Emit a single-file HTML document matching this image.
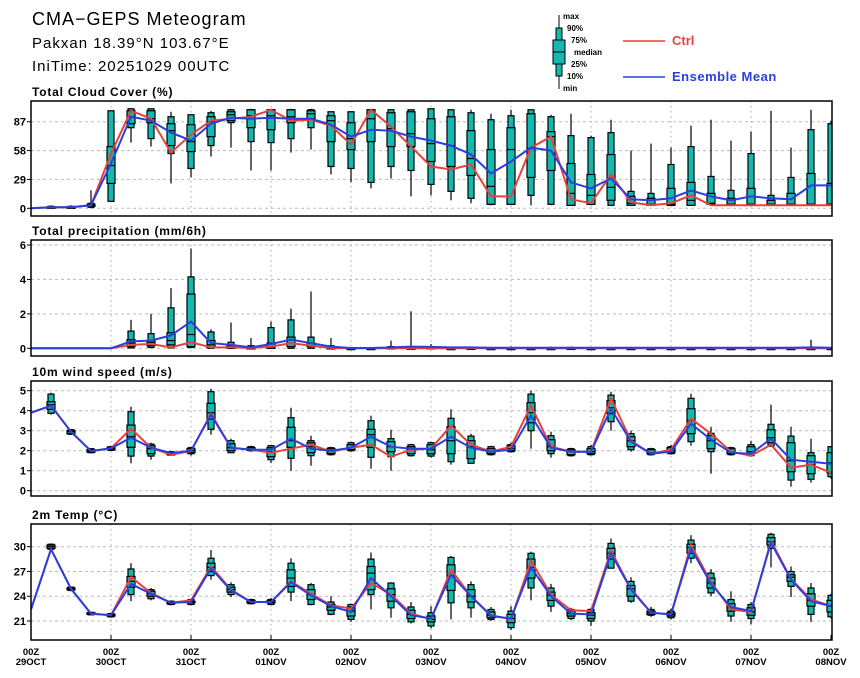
<!DOCTYPE html>
<html><head><meta charset="utf-8"><style>
body{margin:0;background:#fff;}
svg{display:block;font-family:"Liberation Sans",sans-serif;}
</style></head><body>
<svg id="chart" width="860" height="678" viewBox="0 0 860 678">
<rect x="0" y="0" width="860" height="678" fill="#fff"/>
<text x="32" y="25" font-size="18" letter-spacing="1" fill="#000">CMA−GEPS Meteogram</text>
<text x="32" y="48" font-size="15" letter-spacing="1" fill="#000">Pakxan 18.39°N 103.67°E</text>
<text x="32" y="71" font-size="15" letter-spacing="1" fill="#000">IniTime: 20251029 00UTC</text>
<g>
  <line x1="559" y1="15" x2="559" y2="89" stroke="#000"/>
  <rect x="556" y="28" width="6" height="48" fill="#13b8b0" stroke="#000"/>
  <rect x="553" y="40" width="12" height="24" fill="#13b8b0" stroke="#000"/>
  <line x1="553" y1="52" x2="565" y2="52" stroke="#000"/>
  <g font-size="8" font-weight="bold">
  <text x="563" y="19">max</text><text x="567" y="31">90%</text><text x="571" y="43">75%</text>
  <text x="574" y="55">median</text><text x="571" y="67">25%</text><text x="567" y="79">10%</text><text x="563" y="91">min</text>
  </g>
  <line x1="623" y1="41" x2="665" y2="41" stroke="#e8413c" stroke-width="1.5"/>
  <text x="672" y="45" font-size="13" font-weight="bold" fill="#e8413c">Ctrl</text>
  <line x1="623" y1="77" x2="665" y2="77" stroke="#2b3fe0" stroke-width="1.5"/>
  <text x="672" y="81" font-size="13" font-weight="bold" letter-spacing="0.5" fill="#2b3fe0">Ensemble Mean</text>
</g>
</svg>
<script>
// ---- shared
const days = ["29OCT","30OCT","31OCT","01NOV","02NOV","03NOV","04NOV","05NOV","06NOV","07NOV","08NOV"];
const n = null;
// ---- cloud cover
const cloudMin = [n,0,0,0,7,66,62,25,31,52,61,38,38,56,59,34,26,20,30,12,13,8,5,3,3,3,3,3,3,3,3,3,3,3,3,3,3,3,3,3,3];
const cloudP10 = [n,0,0,1,7,81,70,55,40,63,86,67,66,70,81,42,40,26,42,38,24,17,10,4,4,13,4,3,4,3,3,3,3,3,4,4,4,4,4,4,4];
const cloudP25 = [n,0.5,0.5,2,25,85,86,63,57,72,88,81,79,86,90,67,59,67,62,62,47,42,33,4,4,31,38,3,4,8,3,3,3,3,4,4,4,4,4,4,4];
const cloudMed = [n,1,1,3,43,92,90,78,67,87,94,93,93,92,95,88,70,90,80,75,65,63,50,22,59,60,72,15,13,21,5,4,4,8,5,4,4,4,4,4,4];
const cloudP75 = [n,1.5,1.5,4,62,98,98,85,84,92,97,99,99,99,98,93,86,99,96,97,90,92,78,59,81,95,77,45,34,54,12,10,20,26,15,10,20,8,15,35,25];
const cloudP90 = [n,2,2,5,98,100,100,92,94,96,99,99,99,99,99,97,97,99,99,99,100,99,96,89,93,99,92,73,71,76,17,15,44,62,32,18,55,13,31,79,85];
const cloudMax = [n,3,3,18,98,100,100,97,92,98,100,100,100,100,100,97,97,100,99,99,100,99,99,95,99,99,94,95,73,89,58,65,61,83,89,68,77,98,61,99,88];
const cloudCtrl = [0,1,1,3,55,98,90,56,74,88,90,92,99,88,89,83,64,99,82,62,42,39,44,12,12,61,72,9,5,34,6,3,5,13,3,3,3,3,3,3,3];
const cloudMean = [0,1,1,3,45,92,88,76,68,85,91,90,91,90,90,84,72,79,78,72,68,63,54,35,47,61,58,26,20,30,9,8,10,18,12,8,12,10,9,23,23];
const cloudTicks = [0,29,58,87];
// ---- precipitation
const prMin = [n,n,n,n,n,0,0,0,0,0,0,0,0,0,0,0,0,0,0,0,0,0,0,0,0,0,0,0,0,0,0,0,0,0,0,0,0,0,0,0,0];
const prP10 = [n,n,n,n,n,0.02,0.05,0.02,0.05,0,0,0,0,0,0,0,0,0,0,0,0,0,0,0,0,0,0,0,0,0,0,0,0,0,0,0,0,0,0,0,0];
const prP25 = [n,n,n,n,n,0.1,0.15,0.2,0.1,0.05,0,0,0,0.1,0.1,0,0,0,0,0,0,0,0,0,0,0,0,0,0,0,0,0,0,0,0,0,0,0,0,0,0];
const prMed = [n,n,n,n,n,0.3,0.35,0.45,0.8,0.2,0.05,0.02,0.1,0.3,0.15,0.02,0,0,0,0,0,0,0,0,0,0,0,0,0,0,0,0,0,0,0,0,0,0,0,0,0];
const prP75 = [n,n,n,n,n,0.5,0.45,0.9,3.15,0.45,0.15,0.05,0.3,0.65,0.3,0.05,0.01,0.01,0.05,0.03,0.05,0.01,0.02,0.01,0.01,0.01,0.01,0.02,0.01,0.01,0.01,0.01,0.01,0.01,0.01,0.01,0.01,0.01,0.01,0.01,0.01];
const prP90 = [n,n,n,n,n,1.0,0.85,2.35,4.15,0.95,0.35,0.15,1.2,1.65,0.65,0.15,0.02,0.02,0.1,0.05,0.1,0.02,0.05,0.02,0.02,0.02,0.02,0.05,0.02,0.02,0.02,0.02,0.02,0.02,0.02,0.02,0.02,0.02,0.02,0.02,0.02];
const prMax = [n,n,n,n,n,1.65,2.0,3.5,5.8,1.1,1.5,0.6,1.55,2.3,3.3,0.6,0.05,0.05,0.45,2.15,0.25,0.1,0.1,0.05,0.1,0.05,0.1,0.05,0.05,0.05,0.05,0.05,0.05,0.05,0.05,0.05,0.05,0.05,0.05,0.5,0.05];
const prCtrl = [0,0,0,0,0,0.2,0.25,0.05,0.35,0.05,0.05,0.02,0.1,0.3,0.15,0.02,0,0,0,0,0,0,0,0,0,0,0,0,0,0,0,0,0,0,0,0,0,0,0,0,0];
const prMean = [0,0,0,0,0,0.4,0.45,0.75,1.55,0.3,0.2,0.05,0.25,0.5,0.3,0.1,0.02,0.02,0.05,0.1,0.08,0.05,0.05,0.03,0.03,0.03,0.03,0.03,0.03,0.03,0.03,0.03,0.03,0.03,0.03,0.03,0.03,0.03,0.03,0.05,0.03];
const prTicks = [0,2,4,6];
// ---- wind
const wMin = [n,3.8,2.8,1.88,2.0,1.37,1.55,1.75,1.75,2.8,1.9,1.95,1.38,1.0,1.25,1.75,1.95,1.1,1.0,1.7,1.65,1.3,1.37,1.75,1.9,2.1,1.65,1.7,1.75,3.0,1.95,1.75,1.8,2.25,0.85,1.75,1.7,2.2,0.2,0.4,0.6];
const wP10 = [n,3.87,2.82,1.9,2.02,1.73,1.73,1.78,1.85,3.07,1.9,2.0,1.55,1.62,1.75,1.8,2.0,1.67,1.7,1.75,1.73,1.45,1.37,1.8,1.95,3.0,1.85,1.75,1.8,3.45,2.05,1.8,1.85,2.45,1.95,1.8,1.75,2.22,0.53,0.57,0.7];
const wP25 = [n,4.07,2.85,1.93,2.05,2.17,1.85,1.8,1.9,3.57,2.0,2.02,1.7,2.17,1.9,1.85,2.05,2.17,1.95,1.85,1.85,1.85,1.6,1.85,2.0,3.4,2.0,1.8,1.85,3.85,2.2,1.85,1.9,2.85,2.1,1.85,1.85,2.4,0.95,0.85,0.9];
const wMed = [n,4.3,2.95,2.0,2.12,2.7,2.1,1.85,2.0,3.9,2.15,2.05,1.95,2.5,2.2,1.95,2.15,2.8,2.2,2.05,2.05,2.5,2.2,1.95,2.1,3.9,2.2,1.95,1.95,4.15,2.5,1.9,2.0,3.5,2.5,1.95,1.95,2.65,1.5,1.3,1.4];
const wP75 = [n,4.45,3.0,2.05,2.17,3.28,2.25,1.9,2.1,4.37,2.35,2.15,2.15,3.17,2.4,2.1,2.3,3.07,2.45,2.2,2.3,3.2,2.5,2.1,2.25,4.4,2.55,2.05,2.1,4.5,2.7,2.05,2.15,4.1,2.75,2.1,2.2,3.05,2.4,1.75,1.9];
const wP90 = [n,4.83,3.05,2.1,2.2,3.95,2.33,1.95,2.15,4.95,2.5,2.2,2.25,3.65,2.5,2.15,2.4,3.5,2.6,2.3,2.4,3.62,2.73,2.2,2.3,4.83,2.75,2.1,2.2,4.78,2.85,2.1,2.2,4.62,2.87,2.15,2.3,3.32,2.73,1.9,2.2];
const wMax = [n,4.9,3.08,2.12,2.25,4.2,2.4,1.97,2.2,5.1,2.6,2.25,2.3,4.15,2.75,2.2,2.45,3.75,3.05,2.35,2.45,4.07,2.85,2.25,2.4,5.0,2.95,2.15,2.3,4.95,3.0,2.15,2.3,4.85,3.2,2.2,2.5,4.3,3.2,2.6,2.2];
const wCtrl = [3.9,4.25,2.95,1.98,2.12,3.1,2.15,1.8,1.98,3.85,2.15,2.05,1.9,2.1,2.3,1.95,2.15,2.3,1.7,2.05,2.1,3.25,2.3,1.95,2.2,4.25,2.2,1.95,1.95,4.6,2.5,1.85,2.05,3.6,2.85,1.95,1.75,2.3,1.15,1.3,0.9];
const wMean = [3.9,4.25,2.95,1.98,2.12,2.65,2.15,1.88,2.0,3.8,2.15,2.05,2.05,2.6,2.1,2.0,2.15,2.7,2.2,2.1,2.1,2.7,2.15,1.95,2.05,3.75,2.15,1.95,1.95,4.1,2.45,1.85,1.95,3.35,2.55,1.9,1.85,2.6,1.55,1.45,1.35];
const wTicks = [0,1,2,3,4,5];
// ---- temperature
const tMin = [n,29.6,24.6,21.7,21.4,23.4,23.5,22.9,22.9,26.0,23.9,23.0,22.9,23.4,22.9,21.7,20.9,22.4,21.4,20.7,20.1,21.2,21.4,21.0,19.9,23.5,22.1,21.1,20.4,27.4,23.2,21.5,21.2,28.0,24.0,20.9,20.6,27.5,23.9,20.9,21.3];
const tP10 = [n,29.7,24.7,21.75,21.5,24.2,23.7,23.0,23.0,26.5,24.2,23.1,23.0,24.5,23.0,21.8,21.2,24.2,22.6,20.9,20.4,23.2,22.6,21.2,20.2,25.0,22.8,21.3,21.0,27.4,23.4,21.7,21.4,28.6,24.4,21.6,21.3,29.8,25.2,21.8,21.5];
const tP25 = [n,29.8,24.8,21.8,21.6,25.1,24.0,23.1,23.2,27.0,24.5,23.2,23.2,25.2,23.6,22.3,21.6,24.8,23.4,21.3,20.9,24.7,23.3,21.4,20.8,26.2,23.5,21.6,21.3,28.5,24.0,21.8,21.6,29.2,25.0,22.2,21.7,30.2,25.8,22.8,22.1];
const tMed = [n,30.0,24.9,21.9,21.7,25.8,24.3,23.2,23.3,27.5,24.8,23.3,23.3,26.2,24.2,22.7,22.2,26.8,24.2,21.8,21.2,26.5,24.0,21.7,21.3,27.5,24.1,21.9,21.7,29.2,24.9,22.0,21.8,29.9,25.6,22.6,22.1,30.6,26.3,23.5,22.8];
const tP75 = [n,30.2,25.0,22.0,21.8,26.4,24.6,23.3,23.4,28.0,25.1,23.5,23.5,27.2,24.8,23.0,22.7,27.6,24.9,22.3,21.6,27.8,24.8,22.1,21.8,28.5,24.5,22.2,22.0,29.8,25.3,22.2,22.0,30.3,26.2,23.1,22.6,31.1,26.6,24.3,23.5];
const tP90 = [n,30.3,25.1,22.05,21.9,27.3,24.8,23.4,23.6,28.6,25.4,23.6,23.6,28.0,25.4,23.3,23.0,28.5,25.6,22.7,22.0,28.7,25.4,22.4,22.2,29.2,25.0,22.4,22.4,30.4,25.8,22.4,22.2,30.8,26.8,23.6,23.0,31.5,27.0,25.0,24.1];
const tMax = [n,30.4,25.2,22.1,22.0,28.0,25.0,23.5,23.7,29.6,25.7,23.7,23.8,28.6,25.6,24.0,23.1,29.3,25.7,23.3,22.8,28.9,25.8,22.7,22.8,29.4,25.5,22.6,22.6,31.0,26.3,22.7,22.5,31.4,27.3,24.6,23.3,31.7,27.6,25.6,24.3];
const tCtrl = [22.4,29.7,24.9,21.9,21.7,26.3,24.4,23.2,23.5,27.6,24.8,23.3,23.3,25.8,24.3,22.9,22.5,25.6,24.2,21.9,21.2,27.2,24.0,21.7,21.2,28.3,24.2,22.3,22.2,29.5,24.9,22.0,21.8,30.2,25.7,22.4,22.1,30.7,26.1,23.6,22.8];
const tMean = [22.4,29.7,24.9,21.9,21.7,25.5,24.3,23.2,23.3,27.4,24.7,23.3,23.3,25.7,24.1,22.8,22.1,26.2,24.0,21.7,21.3,26.6,24.0,21.6,21.3,27.5,24.0,21.9,21.8,29.2,24.8,22.0,21.8,29.8,25.5,22.7,22.2,30.5,26.0,23.4,22.8];
const tTicks = [21,24,27,30];

const NS = "http://www.w3.org/2000/svg";
const svg = document.getElementById("chart");
const X0 = 31, X1 = 832, STEP = 20;
function xAt(i){ return X0 + i*STEP; }
function mk(tag, attrs, parent){
  const e = document.createElementNS(NS, tag);
  for (const k in attrs) e.setAttribute(k, attrs[k]);
  (parent||svg).appendChild(e);
  return e;
}
function panel(cfg){
  const g = mk("g", {});
  
  
  const y = v => cfg.py0 + (v - cfg.v0) * (cfg.py1 - cfg.py0) / (cfg.v1 - cfg.v0);
  const cid = "clip-" + cfg.name;
  const cp = mk("clipPath", {id: cid}, g);
  mk("rect", {x: X0, y: cfg.top, width: X1 - X0, height: cfg.bot - cfg.top}, cp);
  for (let d = 1; d < days.length - 1; d++) {
    const gl = mk("line", {x1: xAt(d*4), x2: xAt(d*4), y1: cfg.top, y2: cfg.bot, stroke: "#aaa", "stroke-dasharray": "1.5,3.5", "stroke-width": 1}, g);
    
    
  }
  cfg.ticks.forEach(t => {
    const yy = y(t);
    const hl = mk("line", {x1: X0, x2: X1, y1: yy, y2: yy, stroke: "#bbb", "stroke-dasharray": "3,3", "stroke-width": 1}, g);
    
    
    mk("line", {x1: X0 - 4, x2: X0, y1: yy, y2: yy, stroke: "#000"}, g);
    const tl = mk("text", {x: 26, y: yy + 4, "font-size": 11, "font-weight": "bold", "text-anchor": "end"}, g);
    tl.textContent = String(t);
    
    
  });
  const tt = mk("text", {x: 32, y: cfg.top - 5, "font-size": 12, "font-weight": "bold", "letter-spacing": 0.8}, g);
  tt.textContent = cfg.title;
  
  
  const bg = mk("g", {"clip-path": "url(#" + cid + ")"}, g);
  const d = cfg.d;
  for (let i = 0; i < d.med.length; i++) {
    if (d.med[i] === null) continue;
    const x = xAt(i);
    const bx = mk("g", {}, bg);
    
    
    mk("line", {x1: x, x2: x, y1: y(d.mx[i]), y2: y(d.mn[i]), stroke: "#000", "stroke-width": 1.2}, bx);
    const o1 = y(d.p90[i]), o2 = y(d.p10[i]);
    mk("rect", {x: x - 3, y: o1, width: 6, height: Math.max(1.5, o2 - o1), fill: "#13b8b0", stroke: "#000", "stroke-width": 1.2}, bx);
    const i1 = y(d.p75[i]), i2 = y(d.p25[i]);
    mk("rect", {x: x - 4, y: i1, width: 8, height: Math.max(1.5, i2 - i1), fill: "#13b8b0", stroke: "#000", "stroke-width": 1.2}, bx);
    const m = y(d.med[i]);
    mk("line", {x1: x - 4, x2: x + 4, y1: m, y2: m, stroke: "#000", "stroke-width": 1.2}, bx);
  }
  const lp = arr => arr.map((v, i) => xAt(i) + "," + y(v).toFixed(1)).join(" ");
  const rl = mk("polyline", {points: lp(d.ctrl), fill: "none", stroke: "#e8413c", "stroke-width": 2}, bg);
  
  
  const bl = mk("polyline", {points: lp(d.mean), fill: "none", stroke: "#2b3fe0", "stroke-width": 2}, bg);
  
  
  const fr = mk("rect", {x: X0, y: cfg.top, width: X1 - X0, height: cfg.bot - cfg.top, fill: "none", stroke: "#000", "stroke-width": 1.5}, g);
  
  
  return y;
}
panel({name: "cloud-panel", title: "Total Cloud Cover (%)", top: 101, bot: 216, v0: 0, py0: 208.3, v1: 87, py1: 121.7, ticks: cloudTicks,
  d: {mn: cloudMin, p10: cloudP10, p25: cloudP25, med: cloudMed, p75: cloudP75, p90: cloudP90, mx: cloudMax, ctrl: cloudCtrl, mean: cloudMean}});
panel({name: "precip-panel", title: "Total precipitation (mm/6h)", top: 240, bot: 356, v0: 0, py0: 348.3, v1: 6, py1: 245, ticks: prTicks,
  d: {mn: prMin, p10: prP10, p25: prP25, med: prMed, p75: prP75, p90: prP90, mx: prMax, ctrl: prCtrl, mean: prMean}});
panel({name: "wind-panel", title: "10m wind speed (m/s)", top: 381, bot: 496, v0: 0, py0: 490.7, v1: 5, py1: 390.7, ticks: wTicks,
  d: {mn: wMin, p10: wP10, p25: wP25, med: wMed, p75: wP75, p90: wP90, mx: wMax, ctrl: wCtrl, mean: wMean}});
panel({name: "temp-panel", title: "2m Temp (°C)", top: 524, bot: 640, v0: 30, py0: 546.7, v1: 21, py1: 621, ticks: tTicks,
  d: {mn: tMin, p10: tP10, p25: tP25, med: tMed, p75: tP75, p90: tP90, mx: tMax, ctrl: tCtrl, mean: tMean}});
days.forEach((dl, k) => {
  const x = xAt(k*4);
  mk("line", {x1: x, x2: x, y1: 640, y2: 635, stroke: "#000"});
  const t1 = mk("text", {x: x, y: 655, "font-size": 9.5, "font-weight": "bold", "text-anchor": "middle"});
  t1.textContent = "00Z";
  
  
  const t2 = mk("text", {x: x, y: 665, "font-size": 9.5, "font-weight": "bold", "text-anchor": "middle"});
  t2.textContent = dl;
  
  
});
</script>
</body></html>
